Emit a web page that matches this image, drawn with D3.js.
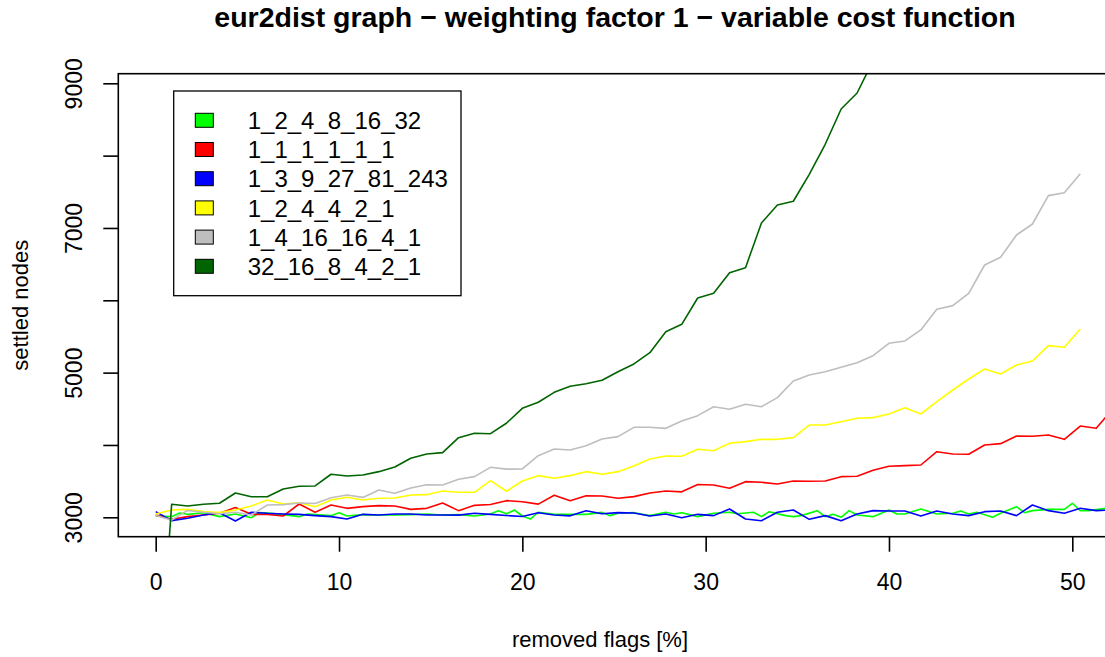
<!DOCTYPE html>
<html><head><meta charset="utf-8">
<script src="https://cdn.jsdelivr.net/npm/d3@7"></script>
<style>body{margin:0;background:#fff}svg{display:block}text{font-family:"Liberation Sans",Arial,Helvetica,sans-serif}</style>
</head><body>
<svg id="c" width="1105" height="657"></svg>
<script>
// ---- data ----
const STEP = 100 / 115; // % of removed flags between measurements
const seriesNames = ["1_2_4_8_16_32", "1_1_1_1_1_1", "1_3_9_27_81_243", "1_2_4_4_2_1", "1_4_16_16_4_1", "32_16_8_4_2_1"];
const seriesColors = ["#00ff00", "#ff0000", "#0000ff", "#ffff00", "#bebebe", "#006400"];

// 1_2_4_8_16_32 : measured on a half-step grid -> [halfStepIndex, value]
const greenHalfIdx = [0,2,3,4,6,8,10,12,13,14,16,18,19,20,22,23,24,26,28,30,32,34,36,38,40,42,43,44,45,46,47,48,50,52,54,56,57,58,60,62,64,65,66,68,70,72,73,75,76,77,79,80,81,83,84,85,86,87,88,90,92,93,94,96,98,100,101,102,103,105,106,108,109,110,112,114,115,116,117,119,121];
const greenVals    = [3018,3009,3059,3041,3064,3009,3046,2995,3064,3060,3037,3009,3046,3037,3023,3064,3018,3037,3032,3032,3037,3046,3032,3037,3018,3046,3092,3048,3101,3018,2975,3070,3041,3041,3041,3068,3023,3055,3064,3023,3069,3046,3064,3009,3055,3069,3050,3069,3009,3078,3023,3009,3023,3092,3009,3041,3000,3092,3032,3009,3101,3046,3046,3115,3046,3055,3087,3046,3069,3000,3055,3147,3064,3092,3110,3110,3194,3092,3092,3120,3110];

const redVals = [3030,2972,3009,3032,3055,3135,3041,3041,3018,3184,3069,3170,3124,3147,3161,3156,3110,3124,3198,3092,3165,3177,3230,3216,3182,3304,3228,3297,3295,3263,3286,3336,3364,3352,3453,3447,3401,3493,3484,3460,3502,3498,3502,3562,3567,3650,3705,3714,3723,3907,3875,3871,4000,4018,4124,4120,4138,4078,4262,4230,4490];
const blueVals = [3078,2954,2986,3032,3064,2949,3069,3055,3046,3041,3023,3009,2977,3041,3032,3046,3046,3032,3032,3030,3055,3040,3025,3012,3062,3032,3020,3090,3050,3064,3060,3018,3046,2995,3041,3023,3115,2977,2953,3069,3101,2972,3023,2953,3046,3092,3087,3087,3018,3087,3046,3023,3078,3087,3023,3170,3092,3055,3124,3092,3101];
const yellowVals = [3046,3101,3110,3078,3065,3101,3156,3239,3184,3202,3147,3239,3277,3239,3263,3267,3309,3313,3364,3346,3346,3506,3360,3502,3576,3539,3576,3631,3594,3631,3709,3806,3848,3843,3940,3921,4023,4046,4078,4078,4101,4276,4276,4322,4369,4378,4428,4515,4428,4598,4760,4912,5050,4981,5106,5161,5373,5350,5603];
const grayVals = [3025,2963,3095,3070,3050,3070,3032,3170,3175,3198,3190,3270,3309,3275,3378,3332,3405,3450,3447,3525,3562,3691,3666,3668,3852,3944,3930,3990,4083,4115,4244,4244,4230,4331,4405,4529,4493,4562,4529,4654,4885,4967,5013,5074,5138,5234,5406,5438,5590,5876,5926,6097,6488,6595,6903,7055,7447,7488,7751];
const darkGreenVals = [0,3180,3156,3180,3194,3336,3285,3285,3391,3429,3433,3595,3571,3585,3631,3696,3816,3875,3894,4101,4161,4156,4300,4507,4590,4728,4811,4847,4894,5013,5120,5276,5566,5668,6032,6097,6382,6451,7069,7318,7369,7742,8157,8645,8866,9310];

const xTicks = [0, 10, 20, 30, 40, 50];
const yTicks = [3000, 4000, 5000, 6000, 7000, 8000, 9000];
const yTickLabels = ["3000", "", "5000", "", "7000", "", "9000"];

const titleText = "eur2dist graph \u2212 weighting factor 1 \u2212 variable cost function";
const xLabel = "removed flags [%]";
const yLabel = "settled nodes";

// ---- build series ----
const toPts = vals => vals.map((v, i) => [i * STEP, v]);
const series = [
  greenHalfIdx.map((h, k) => [h * STEP / 2, greenVals[k]]),
  toPts(redVals), toPts(blueVals), toPts(yellowVals), toPts(grayVals), toPts(darkGreenVals)
];

// ---- layout ----
const svg = d3.select("#c");
const plot = {left: 118.3, top: 73.7, right: 1130, bottom: 536.7};
const x = d3.scaleLinear().domain([0, 50]).range([155.7, 1072.3]);
const y = d3.scaleLinear().domain([3000, 9000]).range([517.3, 83.3]);

svg.append("rect").attr("width", 1105).attr("height", 657).attr("fill", "#fff");

svg.append("clipPath").attr("id", "clip").append("rect")
  .attr("x", plot.left).attr("y", plot.top)
  .attr("width", plot.right - plot.left).attr("height", plot.bottom - plot.top);

const line = d3.line().x(d => x(d[0])).y(d => y(d[1]));
const g = svg.append("g").attr("clip-path", "url(#clip)");
series.forEach((pts, k) => {
  g.append("path").attr("d", line(pts)).attr("fill", "none")
    .attr("stroke", seriesColors[k]).attr("stroke-width", 1.6).attr("stroke-linejoin", "round");
});

// box
svg.append("rect").attr("x", plot.left).attr("y", plot.top)
  .attr("width", plot.right - plot.left).attr("height", plot.bottom - plot.top)
  .attr("fill", "none").attr("stroke", "#000").attr("stroke-width", 1.6);

// x axis
const xAxis = d3.axisBottom(x).tickValues(xTicks).tickSize(15).tickPadding(22).tickSizeOuter(0);
const gx = svg.append("g").attr("transform", `translate(0,${plot.bottom})`).call(xAxis);
gx.select(".domain").remove();
gx.selectAll("line").attr("stroke-width", 1.6);
gx.selectAll("text").attr("font-size", 23).attr("font-family", "Liberation Sans, Arial, sans-serif").attr("fill", "#000");

// y axis
const yAxis = d3.axisLeft(y).tickValues(yTicks).tickSize(15).tickFormat((d, i) => yTickLabels[i]).tickSizeOuter(0);
const gy = svg.append("g").attr("transform", `translate(${plot.left},0)`).call(yAxis);
gy.select(".domain").remove();
gy.selectAll("line").attr("stroke-width", 1.6);
gy.selectAll("text").attr("font-size", 23).attr("font-family", "Liberation Sans, Arial, sans-serif").attr("fill", "#000")
  .attr("x", null).attr("dy", null).attr("text-anchor", "middle")
  .attr("transform", "translate(-36,0) rotate(-90)");

// title & labels
svg.append("text").attr("x", 615).attr("y", 27).attr("text-anchor", "middle")
  .attr("font-size", 28.5).attr("font-weight", "bold").text(titleText);
svg.append("text").attr("x", 600).attr("y", 647).attr("text-anchor", "middle")
  .attr("font-size", 22).text(xLabel);
svg.append("text").attr("transform", `translate(28,${(plot.top + plot.bottom) / 2}) rotate(-90)`)
  .attr("text-anchor", "middle").attr("font-size", 22).text(yLabel);

// legend
const lg = svg.append("g");
lg.append("rect").attr("x", 173.7).attr("y", 91).attr("width", 287.3).attr("height", 204.7)
  .attr("fill", "#fff").attr("stroke", "#000").attr("stroke-width", 1.3);
seriesNames.forEach((name, k) => {
  const cy = 120.3 + k * 29.2;
  lg.append("rect").attr("x", 195.3).attr("y", cy - 7).attr("width", 18).attr("height", 14)
    .attr("fill", seriesColors[k]).attr("stroke", "#000").attr("stroke-width", 1);
  lg.append("text").attr("x", 247.7).attr("y", cy + 8.6).attr("font-size", 24).text(name);
});
</script>
</body></html>
